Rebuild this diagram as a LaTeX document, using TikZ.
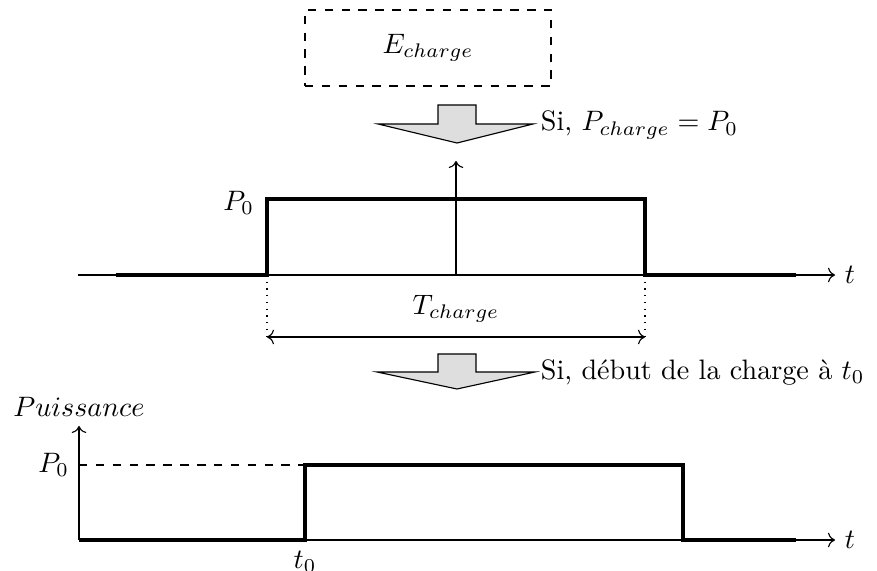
\documentclass[tikz,border=0pt]{standalone}
\usetikzlibrary{arrows.meta}
\begin{document}
\begin{tikzpicture}[x=0.3557pt,y=-0.3557pt,
  axis/.style={->,line width=0.4pt},
  sig/.style={line width=1.15pt},
  blockarrow/.style={draw,fill=black!13,line width=0.4pt,line join=miter},
  guide/.style={dotted,line width=0.4pt}]
\useasboundingbox (0,0) rectangle (877,571);
% top box
\node[draw,dashed,minimum width=87.5pt,minimum height=27pt,inner sep=0pt] (E) at (428,48) {$E_{charge}$};
% first block arrow
\draw[blockarrow] (438,105) -- (476,105) -- (476,124) -- (533,124) -- (457,143) -- (378,124) -- (438,124) -- cycle;
\node[anchor=west] (L1) at (531,125) {Si, $P_{charge} = P_0$};
% middle graph
\coordinate (m0) at (78,275);
\coordinate (m1) at (835,275);
\draw[axis] (m0) -- (m1) node[right] (t1) {$t$};
\coordinate (s0) at (116,275);
\coordinate (s1) at (267,275);
\coordinate (s2) at (267,199);
\coordinate (s3) at (645,199);
\coordinate (s4) at (645,275);
\coordinate (s5) at (796,275);
\draw[sig,line join=miter] (s0) -- (s1) -- (s2) -- (s3) -- (s4) -- (s5);
\coordinate (v0) at (456,275);
\coordinate (v1) at (456,161);
\draw[axis] (v0) -- (v1);
\node[anchor=east] (P1) at (264,203) {$P_0$};
\coordinate (d1) at (267,337);
\coordinate (d2) at (645,337);
\draw[guide] (s1) -- (d1);
\draw[guide] (s4) -- (d2);
\draw[<->,line width=0.4pt] (d1) -- (d2);
\node (T) at (456,309) {$T_{charge}$};
% second block arrow
\draw[blockarrow] (438,354) -- (476,354) -- (476,372) -- (535,372) -- (457,389) -- (377,372) -- (438,372) -- cycle;
\node[anchor=west] (L2) at (531,372) {Si, d\'ebut de la charge \`a $t_0$};
% bottom graph
\coordinate (o) at (79,540);
\coordinate (ytop) at (79,426);
\coordinate (xend) at (835,540);
\draw[axis] (o) -- (ytop) node[anchor=south] (Pu) {$Puissance$};
\draw[axis] (o) -- (xend) node[right] (t2) {$t$};
\coordinate (p0) at (79,465);
\coordinate (b1) at (305,540);
\coordinate (b2) at (305,465);
\coordinate (b3) at (683,465);
\coordinate (b4) at (683,540);
\coordinate (b5) at (796,540);
\draw[dashed,line width=0.4pt] (p0) -- (b2);
\node[anchor=east] (P2) at (p0) {$P_0$};
\draw[sig,line join=miter] (o) -- (b1) -- (b2) -- (b3) -- (b4) -- (b5);
\node[anchor=north] (t0) at (305,541) {$t_0$};
\end{tikzpicture}
\end{document}
